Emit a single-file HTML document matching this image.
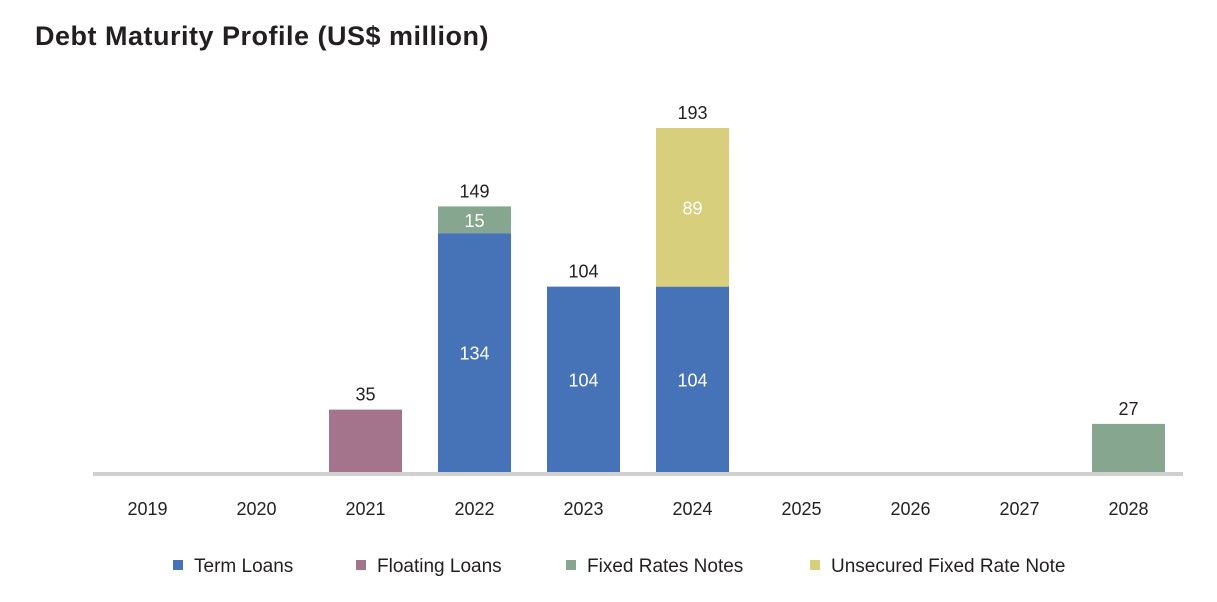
<!DOCTYPE html>
<html><head><meta charset="utf-8"><style>
body{margin:0;background:#fff;width:1217px;height:597px;overflow:hidden;font-family:"Liberation Sans",sans-serif}
</style></head><body>
<svg width="1217" height="597" xmlns="http://www.w3.org/2000/svg">
<text x="35" y="45" font-size="27" font-weight="bold" fill="#231f20" letter-spacing="0.5">Debt Maturity Profile (US$ million)</text>
<g id="bars"></g>
<line x1="93" y1="474" x2="1183" y2="474" stroke="#d0d0d0" stroke-width="4"/>
<g id="xlabels"></g>
<g id="legend"></g>
</svg>
<script>
const categories=["2019","2020","2021","2022","2023","2024","2025","2026","2027","2028"];
const termLoans=[0,0,0,134,104,104,0,0,0,0];
const floatingLoans=[0,0,35,0,0,0,0,0,0,0];
const fixedRatesNotes=[0,0,0,15,0,0,0,0,0,27];
const unsecuredNote=[0,0,0,0,0,89,0,0,0,0];
const seriesNames=["Term Loans","Floating Loans","Fixed Rates Notes","Unsecured Fixed Rate Note"];
const colors=["#4672b8","#a3748c","#86a68f","#d8cf7d"];
const NS="http://www.w3.org/2000/svg";
const x0=93,x1=1183,base=472,k=(472-128)/193;
const bw=(x1-x0)/categories.length;
const xc=i=>x0+bw*(i+0.5);
const y=v=>base-v*k;
const series=[termLoans,floatingLoans,fixedRatesNotes,unsecuredNote];
const bars=document.getElementById('bars');
function txt(parent,x,yy,s,fill,size){const t=document.createElementNS(NS,'text');t.setAttribute('x',x);t.setAttribute('y',yy);t.setAttribute('text-anchor','middle');t.setAttribute('font-size',size||18);t.setAttribute('fill',fill);t.textContent=s;parent.appendChild(t);return t;}
categories.forEach((c,i)=>{
  let cum=0;
  series.forEach((s,j)=>{
    const v=s[i]; if(!v) return;
    const r=document.createElementNS(NS,'rect');
    r.setAttribute('x',xc(i)-36.5);r.setAttribute('width',73);
    r.setAttribute('y',y(cum+v));r.setAttribute('height',v*k);
    r.setAttribute('fill',colors[j]);
    
    
    bars.appendChild(r);
    const segs=series.filter(ss=>ss[i]).length;
    if(segs>1||j===0&&false){
      const t=txt(bars,xc(i),y(cum+v/2)+7,v,'#fff');
      
      
    } else if(j===0){
      const t=txt(bars,xc(i),y(cum+v/2)+7,v,'#fff');
      
      
    }
    cum+=v;
  });
  if(cum>0){
    const t=txt(bars,xc(i),y(cum)-9,cum,'#231f20');
    
    
  }
  const xl=txt(document.getElementById('xlabels'),xc(i),515,c,'#231f20');
  
  
});
const lx=[173,356,566,810];
const lg=document.getElementById('legend');
seriesNames.forEach((n,j)=>{
  const g=document.createElementNS(NS,'g');
  
  
  const r=document.createElementNS(NS,'rect');
  r.setAttribute('x',lx[j]);r.setAttribute('y',560);r.setAttribute('width',10);r.setAttribute('height',10);r.setAttribute('fill',colors[j]);
  g.appendChild(r);
  const t=document.createElementNS(NS,'text');
  t.setAttribute('x',lx[j]+21);t.setAttribute('y',572);t.setAttribute('font-size',19);t.setAttribute('fill','#231f20');t.textContent=n;
  g.appendChild(t);
  lg.appendChild(g);
});
</script>
</body></html>
